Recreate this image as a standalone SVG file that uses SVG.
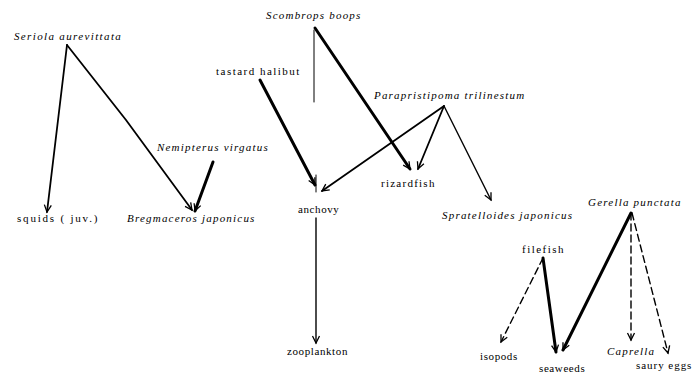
<svg xmlns="http://www.w3.org/2000/svg" width="693" height="376" viewBox="0 0 693 376">
  <style>
    text { font-family: "Liberation Serif", "DejaVu Serif", serif; font-size: 11px; fill: #000; letter-spacing: 0.6px; }
    .sp { font-style: italic; letter-spacing: 1.2px; }
    .e { fill: none; stroke: #000; stroke-linecap: round; stroke-linejoin: round; }
    .thin { stroke-width: 1.4; }
    .mid { stroke-width: 1.8; }
    .bold { stroke-width: 3; }
    .hair { stroke-width: 1; }
    .dash { stroke-width: 1.4; stroke-dasharray: 7 4; }
  </style>
  <defs>
    <marker id="arr" viewBox="-8 -5 10 10" markerWidth="10" markerHeight="10" refX="0" refY="0" orient="auto" markerUnits="userSpaceOnUse">
      <path d="M -7 -3.5 L 0 0 L -7 3.5" fill="none" stroke="#000" stroke-width="1.3"/>
    </marker>
  </defs>

  <g id="connectors">
    <line class="e mid" x1="67" y1="45" x2="47" y2="212" marker-end="url(#arr)"/>
    <polyline class="e mid" points="67,45 126,120 192,210" marker-end="url(#arr)"/>
    <line class="e bold" x1="213" y1="162" x2="195" y2="211" marker-end="url(#arr)"/>
    <line class="e hair" x1="314" y1="30" x2="314" y2="102"/>
    <line class="e bold" x1="315" y1="28" x2="410" y2="169" marker-end="url(#arr)"/>
    <line class="e bold" x1="260" y1="80" x2="315" y2="185" marker-end="url(#arr)"/>
    <line class="e hair" x1="316" y1="175" x2="316" y2="192"/>
    <line class="e mid" x1="444" y1="106" x2="322" y2="191" marker-end="url(#arr)"/>
    <line class="e mid" x1="444" y1="106" x2="418" y2="169" marker-end="url(#arr)"/>
    <line class="e thin" x1="444" y1="106" x2="491" y2="200" marker-end="url(#arr)"/>
    <line class="e thin" x1="316" y1="218" x2="316" y2="343" marker-end="url(#arr)"/>
    <line class="e bold" x1="631" y1="213" x2="563" y2="350" marker-end="url(#arr)"/>
    <line class="e dash" x1="631" y1="213" x2="631" y2="340" marker-end="url(#arr)"/>
    <line class="e dash" x1="632" y1="213" x2="668" y2="353" marker-end="url(#arr)"/>
    <line class="e bold" x1="543" y1="258" x2="556" y2="352" marker-end="url(#arr)"/>
    <line class="e dash" x1="543" y1="258" x2="501" y2="342" marker-end="url(#arr)"/>
  </g>

  <g id="seriola"><text class="sp" x="14" y="40" textLength="108" lengthAdjust="spacing">Seriola aurevittata</text></g>
  <g id="squids"><text x="17" y="222" textLength="81" lengthAdjust="spacing">squids ( juv.)</text></g>
  <g id="nemipterus"><text class="sp" x="157" y="151">Nemipterus virgatus</text></g>
  <g id="bregmaceros"><text class="sp" x="127" y="222">Bregmaceros japonicus</text></g>
  <g id="scombrops"><text class="sp" x="266" y="19">Scombrops boops</text></g>
  <g id="halibut"><text x="216" y="75" textLength="84" lengthAdjust="spacing">tastard halibut</text></g>
  <g id="parapristipoma"><text class="sp" x="374" y="99">Parapristipoma trilinestum</text></g>
  <g id="rizardfish"><text x="381" y="187" textLength="54" lengthAdjust="spacing">rizardfish</text></g>
  <g id="anchovy"><text x="298" y="213">anchovy</text></g>
  <g id="spratelloides"><text class="sp" x="442" y="219">Spratelloides japonicus</text></g>
  <g id="zooplankton"><text x="287" y="355">zooplankton</text></g>
  <g id="gerella"><text class="sp" x="588" y="206">Gerella punctata</text></g>
  <g id="filefish"><text x="522" y="253" textLength="42" lengthAdjust="spacing">filefish</text></g>
  <g id="isopods"><text x="480" y="360">isopods</text></g>
  <g id="seaweeds"><text x="539" y="372">seaweeds</text></g>
  <g id="caprella"><text class="sp" x="607" y="355">Caprella</text></g>
  <g id="saury"><text x="636" y="369" textLength="56" lengthAdjust="spacing">saury eggs</text></g>
</svg>
